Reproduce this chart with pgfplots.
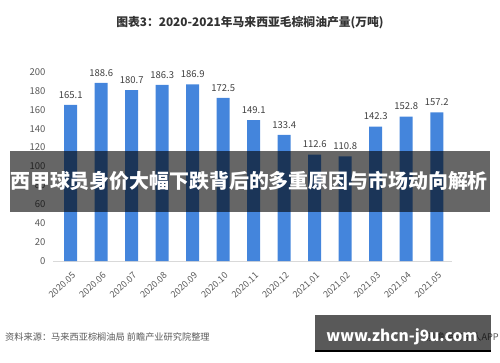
\documentclass[border=0pt]{standalone}
\usepackage{fontspec}
\setmainfont{Noto Sans CJK SC}
\usepackage{pgfplots}
\pgfplotsset{compat=1.18}
\definecolor{barblue}{RGB}{68,133,220}
\definecolor{txtgray}{RGB}{89,89,89}
\definecolor{lblgray}{RGB}{64,64,64}
\begin{document}
\begin{tikzpicture}[x=1pt,y=1pt]
\path[use as bounding box] (0,0) rectangle (500,362);
\node[font=\fontsize{11.8}{13}\selectfont\bfseries, text=black!80] at (250,339) {图表3：2020-2021年马来西亚毛棕榈油产量(万吨)};
\begin{axis}[
  at={(53pt,101pt)}, anchor=south west, scale only axis,
  width=399pt, height=189pt,
  xmin=-0.58, xmax=12.5, ymin=0, ymax=200,
  axis x line*=bottom, axis y line*=left,
  x axis line style={draw=black!15, line width=0.8pt, -},
  y axis line style={draw=none},
  ytick={0,20,...,200}, xtick={0,...,12},
  xticklabels={2020.05,2020.06,2020.07,2020.08,2020.09,2020.10,2020.11,2020.12,2021.01,2021.02,2021.03,2021.04,2021.05},
  major tick length=0pt,
  /pgf/number format/assume math mode=true,
  yticklabel style={font=\fontsize{9.5}{10}\selectfont, text=txtgray, xshift=-4pt},
  xticklabel style={font=\fontsize{9}{10}\selectfont, text=txtgray, xshift=1pt, yshift=-9pt, rotate=43, anchor=north east, inner sep=1pt},
  clip=false,
  nodes near coords,
  nodes near coords style={font=\fontsize{9.5}{10}\selectfont, text=lblgray, yshift=3pt, /pgf/number format/assume math mode=true, /pgf/number format/fixed, /pgf/number format/precision=1},
]
\addplot[ybar, bar width=13pt, fill=barblue, draw=none] coordinates {
(0,165.1) (1,188.6) (2,180.7) (3,186.3) (4,186.9) (5,172.5) (6,149.1)
(7,133.4) (8,112.6) (9,110.8) (10,142.3) (11,152.8) (12,157.2)};
\end{axis}
% banner
\fill[black, opacity=0.6] (10,150) rectangle (490,211);
\node[font=\fontsize{19.9}{21}\selectfont\bfseries, text=white] at (249,181) {西甲球员身价大幅下跌背后的多重原因与市场动向解析};
% source
\node[anchor=west, font=\fontsize{9.2}{10}\selectfont, text=txtgray, inner sep=0pt] at (5,25) {资料来源：马来西亚棕榈油局 前瞻产业研究院整理};
\node[anchor=east, font=\fontsize{9.2}{10}\selectfont, text=txtgray, inner sep=0pt] at (499,25) {前瞻经济学人APP};
\fill[black, opacity=0.65] (315,12) rectangle (491,47);
\draw[black, line width=1.5pt] (315,11) -- (491,11);
\node[font=\fontsize{15.5}{17}\selectfont\bfseries, text=white] at (402,25) {www.zhcn-j9u.com};
\end{tikzpicture}
\end{document}
